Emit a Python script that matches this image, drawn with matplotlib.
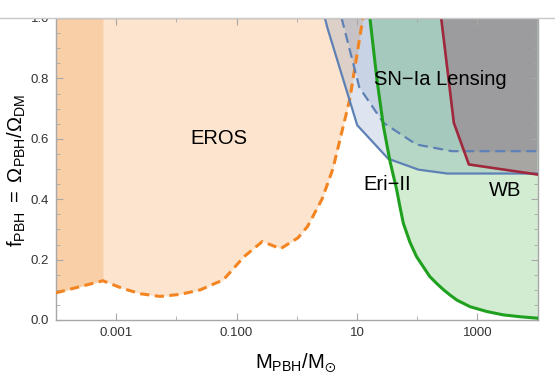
import numpy as np
import matplotlib
matplotlib.use("Agg")
import matplotlib.pyplot as plt
from matplotlib.patches import Rectangle
from matplotlib.lines import Line2D

plt.rcParams['font.family'] = ['Liberation Sans', 'DejaVu Sans']
plt.rcParams['mathtext.fontset'] = 'custom'
plt.rcParams['mathtext.rm'] = 'Liberation Sans'
plt.rcParams['mathtext.it'] = 'Liberation Sans'

# curves: log10(M/Msun), f_PBH
eros_logm = [-4.0, -3.22, -2.9, -2.6, -2.27, -1.93, -1.6, -1.22, -1.07, -0.88,
             -0.57, -0.27, 0.02, 0.18, 0.42, 0.6, 0.88, 1.1]
eros_f = [0.09, 0.13, 0.105, 0.087, 0.078, 0.085, 0.10, 0.133, 0.166, 0.209,
          0.26, 0.236, 0.272, 0.31, 0.40, 0.50, 0.73, 1.0]

eri_logm = [0.468, 0.507, 1.005, 1.52, 2.02, 2.50, 4.0]
eri_f = [1.0, 0.969, 0.645, 0.534, 0.498, 0.485, 0.485]

sn_logm = [0.745, 1.04, 1.44, 1.99, 2.58, 4.0]
sn_f = [1.0, 0.770, 0.653, 0.581, 0.559, 0.559]

green_logm = [1.216, 1.33, 1.44, 1.55, 1.66, 1.714, 1.77, 1.88, 1.99, 2.10, 2.21,
              2.33, 2.44, 2.545, 2.66, 2.88, 3.16, 3.43, 3.7, 4.0]
green_f = [1.0, 0.80, 0.642, 0.525, 0.432, 0.376, 0.321, 0.258, 0.21, 0.177, 0.144,
           0.12, 0.10, 0.083, 0.066, 0.044, 0.028, 0.017, 0.011, 0.006]

wb_logm = [2.40, 2.61, 2.86, 3.99]
wb_f = [1.0, 0.653, 0.515, 0.482]

xticks = [1e-3, 1e-1, 1e1, 1e3]
xticklabels = ['0.001', '0.100', '10', '1000']
xminor = [1e-4, 1e-2, 1e0, 1e2, 1e4]

orange = '#F28522'
blue = '#5E81B5'
green = '#1FA01F'
red = '#A0283C'
wb_fill = '#873554'

fig = plt.figure(figsize=(5.55, 3.9), dpi=100)
ax = fig.add_axes([56 / 555, 70 / 390, 482 / 555, 302 / 390])

m_eros = 10 ** np.array(eros_logm)
m_eri = 10 ** np.array(eri_logm)
m_sn = 10 ** np.array(sn_logm)
m_green = 10 ** np.array(green_logm)
m_wb = 10 ** np.array(wb_logm)

# filled regions
ax.fill_between(m_eros, eros_f, 1, color=orange, alpha=0.22, lw=0, zorder=1)
ax.fill_between(m_eros[:2], eros_f[:2], 1, color=orange, alpha=0.22, lw=0, zorder=1)
ax.fill_between(m_eri, eri_f, 1, color=blue, alpha=0.2, lw=0, zorder=1)
ax.fill_between(m_sn, sn_f, 1, color=blue, alpha=0.17, lw=0, zorder=1)
ax.fill_between(m_green, green_f, 1, color=green, alpha=0.2, lw=0, zorder=1)
ax.fill_between(m_wb, wb_f, 1, color=wb_fill, alpha=0.3, lw=0, zorder=1)

# boundary lines
ax.plot(m_eros, eros_f, color=orange, lw=2.2, dashes=(3, 1.8), zorder=3)
ax.plot(m_eri, eri_f, color=blue, lw=1.6, zorder=3)
ax.plot(m_sn, sn_f, color=blue, lw=1.6, dashes=(4.5, 2.5), zorder=3)
ax.plot(m_wb, wb_f, color=red, lw=1.9, zorder=3)
ax.plot(m_green, green_f, color=green, lw=2.2, zorder=3)

ax.text(10 ** -1.3, 0.6, 'EROS', fontsize=14.5, ha='center', va='center', zorder=5)
ax.text(10 ** 2.39, 0.797, 'SN\u2212Ia Lensing', fontsize=14.5, ha='center', va='center', zorder=5)
ax.text(10 ** 1.5, 0.45, 'Eri\u2212II', fontsize=14.5, ha='center', va='center', zorder=5)
ax.text(10 ** 3.47, 0.43, 'WB', fontsize=14.5, ha='center', va='center', zorder=5)

ax.set_xscale('log')
ax.set_xlim(1e-4, 1.02e4)
ax.set_ylim(0, 1)
ax.set_xticks(xticks, labels=xticklabels)
ax.set_xticks(xminor, minor=True)
ax.set_xticklabels([], minor=True)
ax.set_yticks([0, 0.2, 0.4, 0.6, 0.8, 1.0])
ax.set_yticklabels(['0.0', '0.2', '0.4', '0.6', '0.8', '1.0'])
ax.set_yticks(np.arange(0, 1.001, 0.05), minor=True)

for s in ax.spines.values():
    s.set_color('#A8A8A8')
    s.set_linewidth(1.0)
ax.tick_params(which='both', direction='in', top=True, right=True, color='#A8A8A8',
               labelsize=9.5, labelcolor='#333333', pad=5)
ax.tick_params(which='major', length=5)
ax.tick_params(which='minor', length=3)

fig.text(17 / 555, 0.564, r'$\mathregular{f_{PBH}\ =\ \Omega_{PBH}/\Omega_{DM}}$',
         rotation=90, ha='center', va='center', fontsize=14.5)
fig.text(296 / 555, 22 / 390, r'$\mathregular{M_{PBH}/M_{\odot}}$',
         ha='center', va='baseline', fontsize=14.5)

# cropped top edge of the original screenshot
ytop = (390 - 17.5) / 390
fig.add_artist(Rectangle((0, ytop), 1, 1 - ytop, transform=fig.transFigure,
                         facecolor='white', edgecolor='none', zorder=10))
fig.add_artist(Line2D([0, 1], [ytop, ytop], transform=fig.transFigure,
                      color='#C8C8C8', lw=1.0, zorder=11))

fig.savefig('out.png', dpi=100)
